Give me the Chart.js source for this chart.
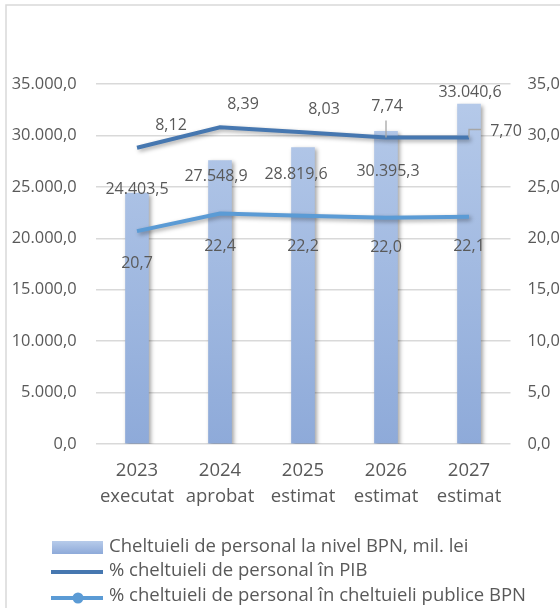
<!DOCTYPE html>
<html>
<head>
<meta charset="utf-8">
<script src="https://cdn.jsdelivr.net/npm/chart.js@4.4.1/dist/chart.umd.min.js"></script>
<style>
  html, body { margin: 0; padding: 0; background: #fff; overflow: hidden; }
  #wrap { position: relative; width: 560px; height: 608px; overflow: hidden; }
  #grafic { position: absolute; left: 0; top: 0; }
</style>
</head>
<body>
<div id="wrap"><canvas id="grafic" width="620" height="608"></canvas></div>
<script>
// date
const ani = ['2023', '2024', '2025', '2026', '2027']
const etape = ['executat', 'aprobat', 'estimat', 'estimat', 'estimat']
const cheltuieliBPN = [24403.5, 27548.9, 28819.6, 30395.3, 33040.6]   // mil. lei, axa stanga
const pondereCheltPublice = [20.7, 22.4, 22.2, 22.0, 22.1]            // %, axa dreapta
const procentPIB = [8.12, 8.39, 8.03, 7.74, 7.70]                     // valorile afisate
const nivelPIB = [28.8, 30.8, 30.3, 29.8, 29.8]                       // cum e desenata linia pe axa dreapta

const legenda = [
    'Cheltuieli de personal la nivel BPN, mil. lei',
    '% cheltuieli de personal în PIB',
    '% cheltuieli de personal în cheltuieli publice BPN'
]

// pozitia etichetelor fata de punct (dx, dy)
const decalajBare = [[0, -4], [-4, 16], [-7, 27], [2, 40], [1, -12]]
const decalajPIB = [[34, -22], [23, -23], [21, -23], [1, -31], [37, -6]]
const decalajPublice = [[0, 32], [0, 33], [0, 31], [0, 30], [0, 30]]

const text = '#595959'
const albastruInchis = '#4677b0'
const albastruDeschis = '#5b9bd5'
const fontFam = '"Open Sans", "Noto Sans", sans-serif'

function fmtMil(v) {
    let p = v.toFixed(1).split('.')
    return p[0].replace(/\B(?=(\d{3})+(?!\d))/g, '.') + ',' + p[1]
}
function fmtVirgula(v, z) {
    return v.toFixed(z).replace('.', ',')
}

function gradientBara(ctx, y0, y1) {
    let g = ctx.createLinearGradient(0, y0, 0, y1)
    g.addColorStop(0, '#b7cbea')
    g.addColorStop(1, '#8eaad9')
    return g
}

// umbra pentru bare si linii
const umbra = {
    id: 'umbra',
    beforeDatasetDraw(chart, args) {
        let c = chart.ctx
        c.save()
        c.shadowColor = 'rgba(0,0,0,0.35)'
        c.shadowBlur = 4
        c.shadowOffsetX = 2
        c.shadowOffsetY = 2
    },
    afterDatasetDraw(chart) {
        chart.ctx.restore()
    }
}

// chenar, etichete si legenda
const extra = {
    id: 'extra',
    beforeDraw(chart) {
        let c = chart.ctx
        c.save()
        c.strokeStyle = '#d9d9d9'
        c.lineWidth = 1.5
        c.beginPath()
        c.moveTo(6, 620)
        c.lineTo(6, 5)
        c.lineTo(640, 5)
        c.stroke()
        c.restore()
    },
    afterDatasetsDraw(chart) {
        let c = chart.ctx
        c.save()
        c.font = '16px ' + fontFam
        c.fillStyle = text
        c.textAlign = 'center'
        c.textBaseline = 'middle'

        let bare = chart.getDatasetMeta(2).data
        bare.forEach((el, i) => {
            c.fillText(fmtMil(cheltuieliBPN[i]), el.x + decalajBare[i][0], el.y + decalajBare[i][1])
        })

        let pib = chart.getDatasetMeta(0).data
        pib.forEach((el, i) => {
            let lx = el.x + decalajPIB[i][0], ly = el.y + decalajPIB[i][1]
            c.fillText(fmtVirgula(procentPIB[i], 2), lx, ly)
            c.strokeStyle = '#a6a6a6'
            c.lineWidth = 1.3
            if (i == 3) {
                c.beginPath()
                c.moveTo(el.x, ly + 14)
                c.lineTo(el.x, el.y)
                c.stroke()
            }
            if (i == 4) {
                c.beginPath()
                c.moveTo(el.x, el.y)
                c.lineTo(el.x, ly - 2)
                c.lineTo(lx - 25, ly - 2)
                c.stroke()
            }
        })

        let pub = chart.getDatasetMeta(1).data
        pub.forEach((el, i) => {
            c.fillText(fmtVirgula(pondereCheltPublice[i], 1), el.x + decalajPublice[i][0], el.y + decalajPublice[i][1])
        })
        c.restore()
    },
    afterDraw(chart) {
        let c = chart.ctx
        c.save()
        c.font = '18.5px ' + fontFam
        c.textBaseline = 'middle'
        c.textAlign = 'left'

        // bara
        c.fillStyle = gradientBara(c, 541, 554)
        c.fillRect(52, 541, 51, 13)
        // linia PIB
        c.strokeStyle = albastruInchis
        c.lineWidth = 4
        c.beginPath(); c.moveTo(51, 572); c.lineTo(103, 572); c.stroke()
        // linia cheltuieli publice
        c.strokeStyle = albastruDeschis
        c.beginPath(); c.moveTo(51, 598); c.lineTo(103, 598); c.stroke()
        c.fillStyle = albastruDeschis
        c.beginPath(); c.arc(78, 598, 5.5, 0, Math.PI * 2); c.fill()

        c.fillStyle = text
        c.fillText(legenda[0], 109, 547)
        c.fillText(legenda[1], 109, 571)
        c.fillText(legenda[2], 109, 596)
        c.restore()
    }
}

let ctx = document.getElementById('grafic').getContext('2d')

const data = {
    labels: ani.map((a, i) => [a, etape[i]]),
    datasets: [
        {
            type: 'line',
            label: legenda[1],
            data: nivelPIB,
            yAxisID: 'y1',
            borderColor: albastruInchis,
            borderWidth: 4,
            pointRadius: 0,
            tension: 0,
            order: 1
        },
        {
            type: 'line',
            label: legenda[2],
            data: pondereCheltPublice,
            yAxisID: 'y1',
            borderColor: albastruDeschis,
            borderWidth: 4,
            pointRadius: 0,
            tension: 0,
            order: 2
        },
        {
            type: 'bar',
            label: legenda[0],
            data: cheltuieliBPN,
            yAxisID: 'y',
            backgroundColor: (context) => {
                let ca = context.chart.chartArea
                if (!ca) return '#a8bfe4'
                return gradientBara(context.chart.ctx, ca.top, ca.bottom)
            },
            barThickness: 23,
            order: 3
        }
    ]
}

const config = {
    type: 'bar',
    data: data,
    options: {
        responsive: false,
        animation: false,
        layout: { padding: { top: 84, left: 0, right: 0, bottom: 0 } },
        plugins: {
            legend: { display: false },
            tooltip: { enabled: false }
        },
        scales: {
            x: {
                grid: { display: false, drawTicks: false },
                border: { display: false },
                ticks: {
                    color: text,
                    font: { family: fontFam, size: 18.5, lineHeight: 1.4 },
                    padding: 14,
                    maxRotation: 0
                },
                afterFit: (s) => { s.height = 164 }
            },
            y: {
                position: 'left',
                min: 0,
                max: 35000,
                ticks: {
                    stepSize: 5000,
                    color: text,
                    font: { family: fontFam, size: 16.4 },
                    padding: 19,
                    callback: (v) => fmtMil(v)
                },
                grid: { color: '#d9d9d9', lineWidth: 1.5, drawTicks: false },
                border: { display: false },
                afterFit: (s) => { s.width = 95.5 }
            },
            y1: {
                position: 'right',
                min: 0,
                max: 35,
                ticks: {
                    stepSize: 5,
                    color: text,
                    font: { family: fontFam, size: 16.4 },
                    padding: 17,
                    callback: (v) => fmtVirgula(v, 1)
                },
                grid: { display: false, drawTicks: false },
                border: { display: false },
                afterFit: (s) => { s.width = 109.5 }
            }
        }
    },
    plugins: [umbra, extra]
}

let grafic = new Chart(ctx, config)
</script>
</body>
</html>
